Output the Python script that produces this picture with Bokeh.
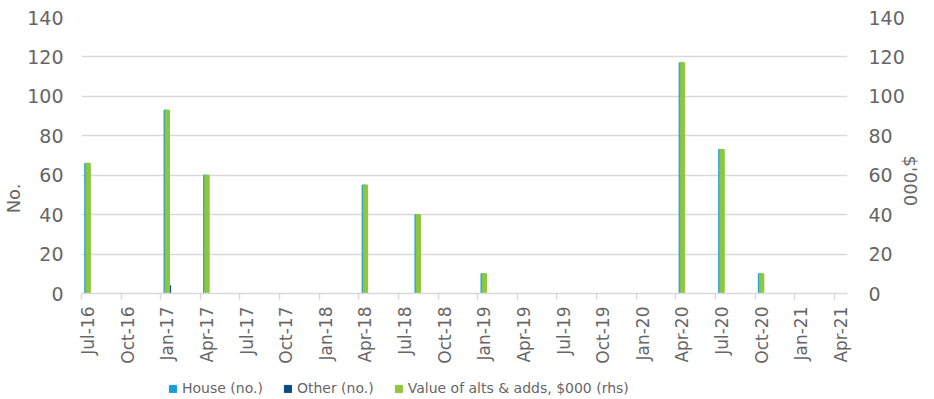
from math import pi
import pandas as pd
from bokeh.plotting import figure
from bokeh.layouts import column
from bokeh.models import (Range1d, LinearAxis, FixedTicker, Legend, LegendItem,
                          ColumnDataSource)
from bokeh.transform import dodge
from bokeh.embed import file_html
from bokeh.resources import INLINE

# ---- data ----
all_months = [d.strftime("%b-%y") for d in pd.period_range("2016-07", "2021-04", freq="M")]
tick_labels = ["Jul-16", "Oct-16", "Jan-17", "Apr-17", "Jul-17", "Oct-17", "Jan-18",
               "Apr-18", "Jul-18", "Oct-18", "Jan-19", "Apr-19", "Jul-19", "Oct-19",
               "Jan-20", "Apr-20", "Jul-20", "Oct-20", "Jan-21", "Apr-21"]
data_months = ["Jul-16", "Jan-17", "Apr-17", "Apr-18", "Aug-18", "Jan-19", "Apr-20", "Jul-20", "Oct-20"]
house = [66, 93, 60, 55, 40, 10, 117, 73, 10]
other = [0, 4, 0, 0, 0, 0, 0, 0, 0]
value = [66, 93, 60, 55, 40, 10, 117, 73, 10]
series_names = ["House (no.)", "Other (no.)", "Value of alts & adds, $000 (rhs)"]
series_colors = ["#1c9bd8", "#0a4a7e", "#8dc63f"]

TXT = "#666666"
GRID = "#d9d9d9"
FONT = "DejaVu Sans"
NB = "\u00a0"

src = ColumnDataSource(dict(
    xc=[all_months.index(m) + 0.5 for m in data_months],
    house=house, other=other, value=value))

p = figure(width=934, height=377, output_backend="svg", toolbar_location=None,
           x_range=Range1d(0, len(all_months)), y_range=Range1d(0, 140),
           min_border_left=81, min_border_right=84, min_border_top=17, min_border_bottom=84)
p.outline_line_color = None
p.background_fill_color = "white"
p.border_fill_color = "white"
p.extra_y_ranges = {"rhs": Range1d(0, 140)}

p.vbar(x=dodge("xc", -0.125, range=p.x_range), top="house", width=0.25,
       source=src, color=series_colors[0])
p.vbar(x=dodge("xc", 0.125, range=p.x_range), top="other", width=0.25,
       source=src, color=series_colors[1])
p.vbar(x="xc", top="value", width=1/3, source=src, color=series_colors[2],
       y_range_name="rhs")

# x axis
xa = p.xaxis[0]
q_idx = [all_months.index(t) for t in tick_labels]
xa.ticker = FixedTicker(ticks=[i + 0.5 for i in q_idx], minor_ticks=q_idx)
xa.major_label_overrides = {i + 0.5: t for i, t in zip(q_idx, tick_labels)}
xa.major_label_orientation = pi / 2
xa.major_tick_in = 0
xa.major_tick_out = 0
xa.minor_tick_in = 0
xa.minor_tick_out = 6
xa.minor_tick_line_color = GRID
xa.minor_tick_line_width = 1.5
xa.axis_line_color = GRID
xa.axis_line_width = 1.5
xa.major_label_standoff = 7
xa.major_label_text_font = FONT
xa.major_label_text_font_size = "17px"
xa.major_label_text_color = TXT

# y axes
ya = p.yaxis[0]
ya.ticker = FixedTicker(ticks=list(range(0, 141, 20)))
ra = LinearAxis(y_range_name="rhs", ticker=FixedTicker(ticks=list(range(0, 141, 20))))
p.add_layout(ra, "right")
for ax, so in ((ya, 18), (ra, 21)):
    ax.axis_line_color = None
    ax.major_tick_line_color = None
    ax.minor_tick_line_color = None
    ax.major_tick_in = 0
    ax.major_tick_out = 0
    ax.minor_tick_in = 0
    ax.minor_tick_out = 0
    ax.major_label_standoff = so
    ax.major_label_text_font = FONT
    ax.major_label_text_font_size = "19px"
    ax.major_label_text_color = TXT
    ax.axis_label_text_font = FONT
    ax.axis_label_text_font_size = "18px"
    ax.axis_label_text_font_style = "normal"
    ax.axis_label_text_color = TXT

ya.axis_label = "No." + NB * 15
ya.axis_label_standoff = 0
ra.axis_label_standoff = 3
ra.axis_label_orientation = -pi / 2
ra.axis_label = "$'000" + NB * 21

p.xgrid.grid_line_color = None
p.ygrid.ticker = FixedTicker(ticks=list(range(20, 141, 20)))
p.ygrid.grid_line_color = GRID
p.ygrid.grid_line_width = 1.5

# ---- legend strip ----
lg = figure(width=934, height=22, output_backend="svg", toolbar_location=None,
            x_range=Range1d(0, 1), y_range=Range1d(0, 1),
            x_axis_location=None, y_axis_location=None,
            min_border_left=0, min_border_right=0, min_border_top=0, min_border_bottom=0)
lg.outline_line_color = None
lg.background_fill_color = "white"
lg.border_fill_color = "white"
lg.grid.grid_line_color = None
lg.grid.visible = False
items = []
for name, col in zip(series_names, series_colors):
    r = lg.vbar(x=[-5], top=[0], width=0.01, color=col)
    items.append(LegendItem(label=name, renderers=[r]))
legend = Legend(items=items, orientation="horizontal", location=(87, 3))
legend.background_fill_alpha = 0
legend.border_line_color = None
legend.padding = 0
legend.margin = 0
legend.spacing = 20
legend.glyph_width = 9
legend.glyph_height = 9
legend.label_standoff = 5
legend.label_height = 16
legend.label_text_font = FONT
legend.label_text_font_size = "14px"
legend.label_text_color = TXT
lg.add_layout(legend)

page = column(p, lg, spacing=0)
open("out.html", "w").write(file_html(page, INLINE))
